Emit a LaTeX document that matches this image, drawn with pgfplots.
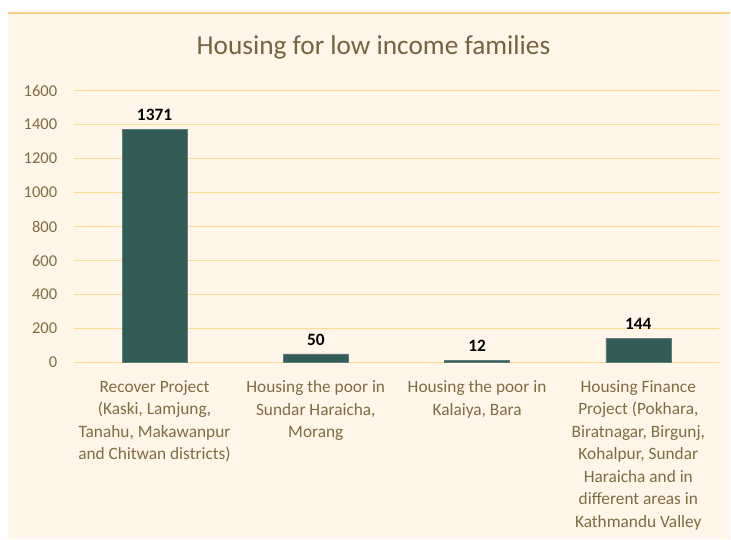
\documentclass[border=0pt]{standalone}
\usepackage{pgfplots}
\pgfplotsset{compat=1.18}
\usepackage{fontspec}
\setmainfont{Carlito}
\definecolor{bgc}{RGB}{255,246,233}
\definecolor{gridc}{RGB}{255,218,145}
\definecolor{topc}{RGB}{247,206,140}
\definecolor{barc}{RGB}{51,92,89}
\definecolor{txtc}{RGB}{128,108,66}
\definecolor{titc}{RGB}{118,100,64}
\begin{document}
\begin{tikzpicture}
\fill[white] (0,0) rectangle (548.25pt,405pt);
\fill[bgc] (6pt,0) rectangle (548.25pt,395.25pt);
\draw[topc, line width=1.6pt] (6pt,395pt) -- (548.25pt,395pt);
\node[text=titc, font=\fontsize{20.5}{24}\selectfont] at (280.5pt,369.5pt) {Housing for low income families};
\begin{axis}[
  at={(55.5pt,132.75pt)}, anchor=south west,
  scale only axis, width=484.5pt, height=204.2pt,
  xmin=-0.5, xmax=3.5, ymin=0, ymax=1600,
  axis line style={draw=none},
  ybar, bar width=48.75pt,
  ytick={0,200,...,1600},
  ymajorgrids, grid style={gridc, line width=1.1pt},
  xtick={0,1,2,3},
  xticklabels={{Recover Project\\(Kaski, Lamjung,\\Tanahu, Makawanpur\\and Chitwan districts)},
    {Housing the poor in\\Sundar Haraicha,\\Morang},
    {Housing the poor in\\Kalaiya, Bara},
    {Housing Finance\\Project (Pokhara,\\Biratnagar, Birgunj,\\Kohalpur, Sundar\\Haraicha and in\\different areas in\\Kathmandu Valley}},
  xticklabel style={align=center, text=txtc, font=\fontsize{13}{16.9}\selectfont, anchor=north, yshift=-10pt},
  yticklabel style={text=txtc, font=\fontsize{12.4}{14}\selectfont, xshift=-9pt},
  /pgf/number format/assume math mode=true,
  /pgf/number format/1000 sep={},
  major tick length=0pt,
  nodes near coords,
  every node near coord/.append style={font=\bfseries\fontsize{13}{15}\selectfont, text=black, yshift=3pt},
  clip=false,
]
\addplot[fill=barc, draw=barc!80!white, line width=0.3pt] coordinates {(0,1371) (1,50) (2,12) (3,144)};
\end{axis}
\end{tikzpicture}
\end{document}
